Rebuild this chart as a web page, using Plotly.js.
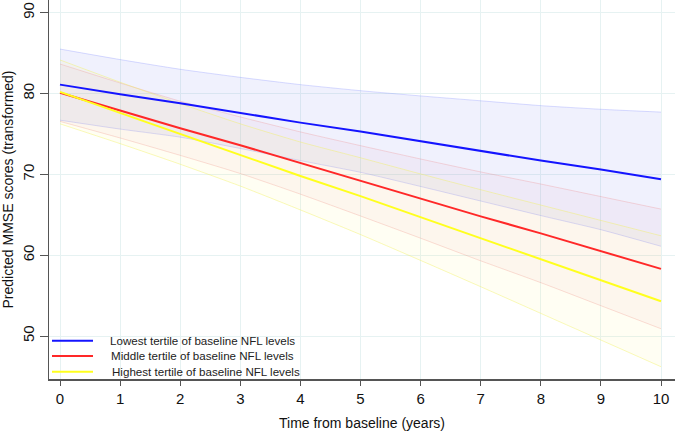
<!DOCTYPE html>
<html>
<head>
<meta charset="utf-8">
<script src="https://cdn.plot.ly/plotly-3.0.1.min.js"></script>
<style>html,body{margin:0;padding:0;background:#fff;}#chart{width:675px;height:432px;}</style>
</head>
<body>
<div id="chart"></div>
<script>
// Time from baseline (years)
var years = [0, 1, 2, 3, 4, 5, 6, 7, 8, 9, 10];

// Lowest tertile
var lowFit   = [81.1, 79.9, 78.8, 77.6, 76.4, 75.3, 74.1, 72.9, 71.7, 70.6, 69.4];
var lowUpper = [85.5, 84.2, 83.0, 82.0, 81.1, 80.35, 79.7, 79.1, 78.5, 78.05, 77.7];
var lowLower = [76.7, 75.6, 74.6, 73.2, 71.7, 70.25, 68.5, 66.7, 64.9, 63.15, 61.1];

// Middle tertile
var midFit   = [80.1, 77.9, 75.7, 73.6, 71.4, 69.2, 67.0, 64.8, 62.7, 60.5, 58.3];
var midUpper = [83.65, 81.3, 79.05, 77.1, 75.25, 73.55, 71.9, 70.3, 68.8, 67.25, 65.7];
var midLower = [76.55, 74.5, 72.35, 70.1, 67.55, 64.85, 62.1, 59.3, 56.6, 53.75, 50.9];

// Highest tertile
var highFit   = [80.2, 77.6, 75.0, 72.4, 69.8, 67.3, 64.7, 62.1, 59.5, 56.9, 54.3];
var highUpper = [84.15, 81.4, 78.75, 76.25, 74.0, 72.05, 70.05, 68.1, 66.2, 64.3, 62.4];
var highLower = [76.25, 73.8, 71.25, 68.55, 65.6, 62.55, 59.35, 56.1, 52.8, 49.5, 46.2];

var seriesNames = [
  "Lowest tertile of baseline NFL levels",
  "Middle tertile of baseline NFL levels",
  "Highest tertile of baseline NFL levels"
];
var xTicks = [0, 1, 2, 3, 4, 5, 6, 7, 8, 9, 10];
var yTicks = [50, 60, 70, 80, 90];

var lineColors = ["#1414ff", "#ff2828", "#ffff1e"];
var fillColors = ["rgba(60,80,230,0.08)", "rgba(220,80,120,0.045)", "rgba(255,245,120,0.09)"];
var edgeColors = ["rgba(120,130,255,0.28)", "rgba(235,120,120,0.26)", "rgba(240,240,90,0.42)"];

var groups = [
  {fit: lowFit, up: lowUpper, lo: lowLower},
  {fit: midFit, up: midUpper, lo: midLower},
  {fit: highFit, up: highUpper, lo: highLower}
];

var traces = [];
groups.forEach(function (g, i) {
  traces.push({x: years, y: g.lo, type: "scatter", mode: "lines", showlegend: false, hoverinfo: "skip",
    line: {color: edgeColors[i], width: 1, shape: "spline", smoothing: 0.6}});
  traces.push({x: years, y: g.up, type: "scatter", mode: "lines", showlegend: false, hoverinfo: "skip",
    fill: "tonexty", fillcolor: fillColors[i],
    line: {color: edgeColors[i], width: 1, shape: "spline", smoothing: 0.6}});
});
groups.forEach(function (g, i) {
  traces.push({x: years, y: g.fit, type: "scatter", mode: "lines", name: seriesNames[i], showlegend: false,
    line: {color: lineColors[i], width: 2}});
});

// manual legend (white box, sample lines, labels)
var shapes = [{type: "rect", xref: "paper", yref: "paper", x0: 0.002, x1: 0.794, y0: 0.004, y1: 0.150,
  fillcolor: "#ffffff", line: {width: 0}, layer: "between"}];
var legY = [0.1011, 0.0607, 0.0193];
var legTextX = [0.0942, 0.0958, 0.0974];
var annotations = [];
seriesNames.forEach(function (n, i) {
  shapes.push({type: "line", xref: "paper", yref: "paper", x0: 0.0048, x1: 0.0703, y0: legY[i], y1: legY[i],
    line: {color: lineColors[i], width: 2}, layer: "above"});
  annotations.push({xref: "paper", yref: "paper", x: legTextX[i], y: legY[i], xanchor: "left", yanchor: "middle",
    text: n, showarrow: false, font: {family: "Liberation Sans, Arial, sans-serif", size: 11.6, color: "#222"}});
});

var layout = {
  width: 675, height: 432,
  margin: {l: 49, r: 0, t: 0, b: 53},
  paper_bgcolor: "#ffffff", plot_bgcolor: "#ffffff",
  font: {family: "Liberation Sans, Arial, sans-serif", color: "#111"},
  showlegend: false,
  xaxis: {
    range: [-0.183, 10.233], tickvals: xTicks, ticktext: xTicks.map(String),
    showgrid: true, gridcolor: "#e6f2f2", gridwidth: 1, zeroline: false,
    showline: true, linecolor: "#555", linewidth: 1.5,
    ticks: "outside", ticklen: 5, tickcolor: "#555", tickwidth: 1,
    tickfont: {size: 15, color: "#111"},
    title: {text: "Time from baseline (years)", font: {size: 14, color: "#111"}, standoff: 12}
  },
  yaxis: {
    range: [44.68, 91.57], tickvals: yTicks, ticktext: yTicks.map(String), tickangle: -90,
    showgrid: true, gridcolor: "#e6f2f2", gridwidth: 1, zeroline: false,
    showline: true, linecolor: "#555", linewidth: 1.5,
    ticks: "outside", ticklen: 8, tickcolor: "#555", tickwidth: 1,
    tickfont: {size: 15, color: "#111"},
    title: {text: "Predicted MMSE scores (transformed)", font: {size: 14, color: "#111"}, standoff: 4}
  },
  shapes: shapes,
  annotations: annotations
};

Plotly.newPlot("chart", traces, layout, {staticPlot: true, displayModeBar: false});
</script>
</body>
</html>
